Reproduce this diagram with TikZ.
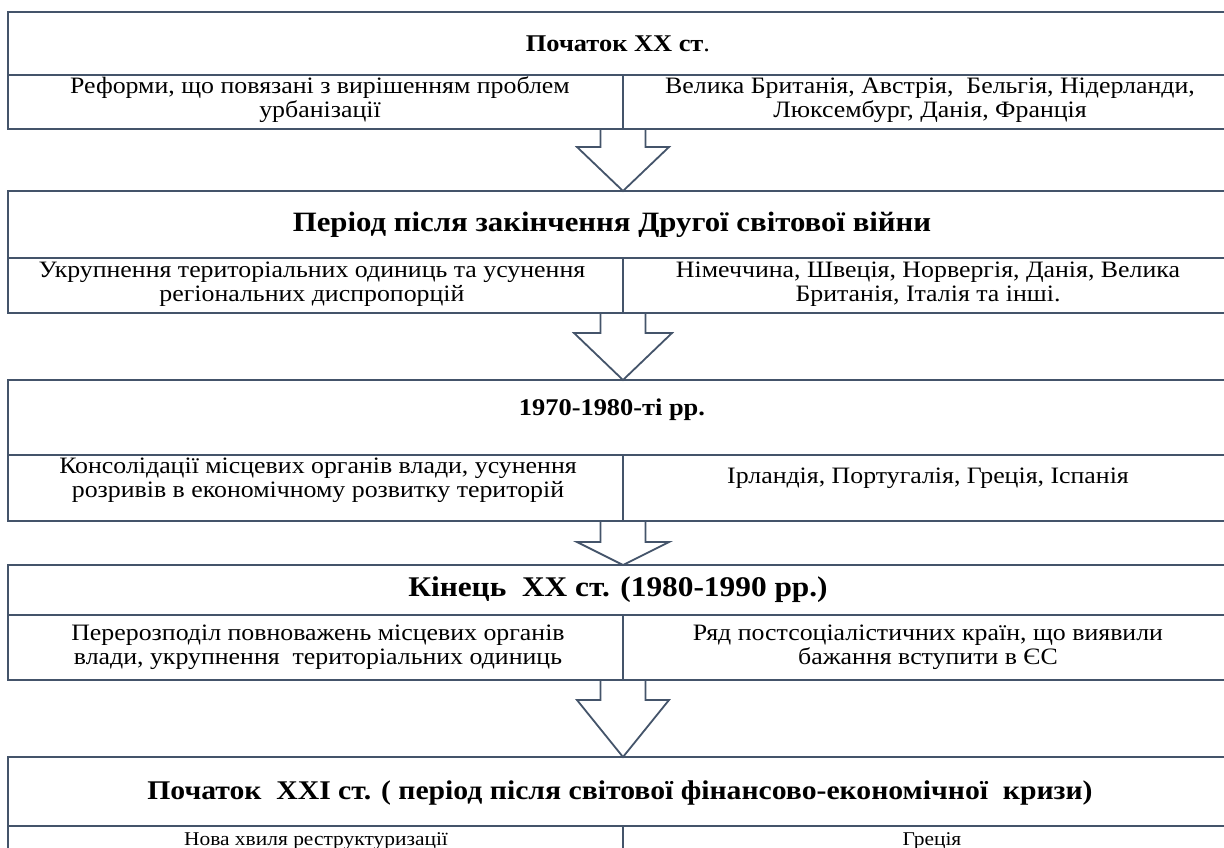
\documentclass[tikz,border=0pt]{standalone}
\usepackage{fontspec}
\setmainfont{Liberation Serif}[FakeStretch=1.1]
\usetikzlibrary{calc}
\definecolor{ln}{HTML}{44546A}
\begin{document}
\begin{tikzpicture}[x=1pt,y=-1pt,
 frame/.style={draw=ln, line width=2.3pt},
 sep/.style={draw=ln, line width=1.8pt},
 vsep/.style={draw=ln, line width=1.3pt},
 blockarrow/.style={draw=ln, line width=1.8pt, fill=white, line join=miter},
 ttl/.style={font=\fontsize{27}{30}\selectfont\bfseries, inner sep=0pt},
 ttlsmall/.style={font=\fontsize{24}{28}\selectfont\bfseries, inner sep=0pt},
 txt/.style={font=\fontsize{23.5}{24}\selectfont, align=center, inner sep=0pt},
 txtsmall/.style={font=\fontsize{19.5}{23}\selectfont, align=center, inner sep=0pt}]
\useasboundingbox (0,0) rectangle (1224,848);
\clip (0,0) rectangle (1224,848);
% block arrows
\foreach \n/\t/\h/\p/\w in {a1/129/147/191/46, a2/313/333/380/49, a3/521/542/565/46, a4/680/700/757/46}{
  \coordinate (\n s) at (623,\t);
  \coordinate (\n t) at (623,\p);
  \draw[blockarrow] ($(\n s)+(-22.5,0)$) -- (600.5,\h) -- ($(623-\w,\h)$) -- (\n t) -- ($(623+\w,\h)$) -- (645.5,\h) -- ($(\n s)+(22.5,0)$);
}
% boxes
\foreach \a/\b/\c in {12/75/129, 191/258/313, 380/455/521, 565/615/680, 757/826/880}{
  \draw[sep] (8,\b) -- (1232,\b);
  \draw[vsep] (623,\b) -- (623,\c);
  \draw[frame] (8,\a) rectangle (1232,\c);
}
% titles
\node[ttlsmall] (t1) at (618,44) {Початок XX ст\textmd{.}};
\node[ttl,font=\fontsize{28}{30}\selectfont\bfseries] (t2) at (612,225) {Період після закінчення Другої світової війни};
\node[ttlsmall] (t3) at (612,410) {1970-1980-ті рр.};
\node[ttl,font=\fontsize{28.5}{30}\selectfont\bfseries] (t4) at (618,590) {Кінець\ \ XX ст. (1980-1990 рр.)};
\node[ttl] (t5) at (620,793) {Початок\ \ XXI ст. ( період після світової фінансово-економічної\ \ кризи)};
% contents
\node[txt] (l1) at (320,100) {Реформи, що повязані з вирішенням проблем\\урбанізації};
\node[txt] (r1) at (930,100) {Велика Британія, Австрія,\ \ Бельгія, Нідерланди,\\Люксембург, Данія, Франція};
\node[txt] (l2) at (312,284) {Укрупнення територіальних одиниць та усунення\\регіональних диспропорцій};
\node[txt] (r2) at (928,284) {Німеччина, Швеція, Норвергія, Данія, Велика\\Британія, Італія та інші.};
\node[txt] (l3) at (318,480) {Консолідації місцевих органів влади, усунення\\розривів в економічному розвитку територій};
\node[txt] (r3) at (928,478) {Ірландія, Португалія, Греція, Іспанія};
\node[txt] (l4) at (318,647) {Перерозподіл повноважень місцевих органів\\влади, укрупнення\ \ територіальних одиниць};
\node[txt] (r4) at (928,647) {Ряд постсоціалістичних країн, що виявили\\бажання вступити в ЄС};
\node[txtsmall] (l5) at (316,841) {Нова хвиля реструктуризації};
\node[txtsmall] (r5) at (932,841) {Греція};
\end{tikzpicture}
\end{document}
